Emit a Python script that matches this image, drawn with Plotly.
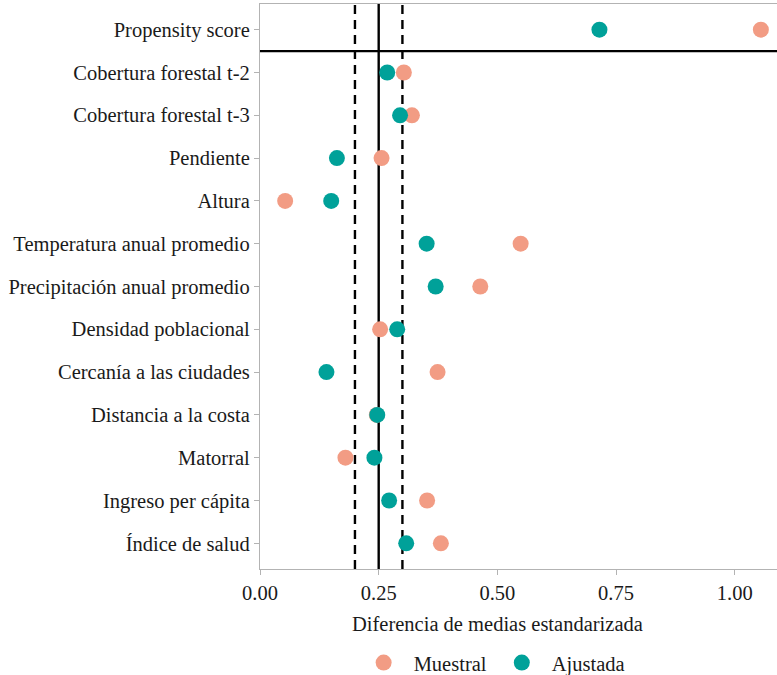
import plotly.graph_objects as go

# Covariates, top to bottom
covariables = [
    "Propensity score",
    "Cobertura forestal t-2",
    "Cobertura forestal t-3",
    "Pendiente",
    "Altura",
    "Temperatura anual promedio",
    "Precipitación anual promedio",
    "Densidad poblacional",
    "Cercanía a las ciudades",
    "Distancia a la costa",
    "Matorral",
    "Ingreso per cápita",
    "Índice de salud",
]

# Absolute standardized mean differences
muestral = [1.055, 0.303, 0.320, 0.256, 0.053, 0.549, 0.464, 0.253, 0.374, 0.246, 0.180, 0.352, 0.381]
ajustada = [0.715, 0.268, 0.295, 0.162, 0.150, 0.351, 0.370, 0.289, 0.140, 0.247, 0.241, 0.272, 0.308]

x_ticks = [0.0, 0.25, 0.5, 0.75, 1.0]
x_ticklabels = ["0.00", "0.25", "0.50", "0.75", "1.00"]

umbral = 0.25
banda = [0.2, 0.3]

FONT = "Liberation Serif"
FS = 20.5
SALMON = "#F29C84"
TEAL = "#00A199"

fig = go.Figure()
fig.add_trace(go.Scatter(
    x=muestral, y=covariables, mode="markers", name="Muestral",
    marker=dict(color=SALMON, size=16, line=dict(width=0)),
))
fig.add_trace(go.Scatter(
    x=ajustada, y=covariables, mode="markers", name="Ajustada",
    marker=dict(color=TEAL, size=16, line=dict(width=0)),
))

# Reference thresholds
for v in banda:
    fig.add_shape(type="line", xref="x", yref="paper", x0=v, x1=v, y0=0, y1=1,
                  line=dict(color="black", width=2.4, dash="9px,6px"), layer="below")
fig.add_shape(type="line", xref="x", yref="paper", x0=umbral, x1=umbral, y0=0, y1=1,
              line=dict(color="black", width=2.4), layer="below")
# Separator under the propensity score row
fig.add_shape(type="line", xref="paper", yref="y", x0=0, x1=1, y0=0.5, y1=0.5,
              line=dict(color="black", width=2.4), layer="below")

fig.add_annotation(text="Diferencia de medias estandarizada", xref="x", x=0.5,
                   yref="paper", y=-0.097, yanchor="middle", xanchor="center",
                   showarrow=False, font=dict(family=FONT, size=FS, color="#1a1a1a"))

fig.update_layout(
    width=777, height=675,
    margin=dict(l=260, r=0, t=4, b=106, autoexpand=False),
    plot_bgcolor="white", paper_bgcolor="white",
    font=dict(family=FONT, size=FS, color="#1a1a1a"),
    showlegend=True,
    legend=dict(orientation="h", x=0.449, xanchor="center", y=-0.166, yanchor="middle",
                font=dict(family=FONT, size=FS, color="#1a1a1a"), itemwidth=50,
                bgcolor="rgba(0,0,0,0)"),
    xaxis=dict(range=[0, 1.089], tickvals=x_ticks, ticktext=x_ticklabels,
               showgrid=False, zeroline=False, showline=True, linecolor="#b3b3b3",
               linewidth=1.2, mirror=True, ticks="outside", ticklen=5,
               tickcolor="#b3b3b3", tickwidth=1.2, automargin=False,
               tickfont=dict(family=FONT, size=FS, color="#1a1a1a")),
    yaxis=dict(categoryorder="array", categoryarray=covariables, range=[12.6, -0.6],
               showgrid=False, zeroline=False, showline=True, linecolor="#b3b3b3",
               linewidth=1.2, ticks="outside", ticklen=5, tickcolor="#b3b3b3",
               tickwidth=1.2, automargin=False,
               tickfont=dict(family=FONT, size=FS, color="#1a1a1a")),
)

fig.write_html("out.html")
